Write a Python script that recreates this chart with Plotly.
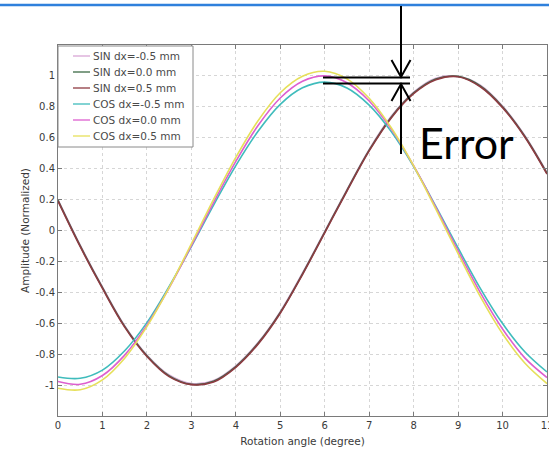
import plotly.graph_objects as go

# ---------------- data ----------------
angle = [0, 0.5, 1, 1.5, 2, 2.5, 3, 3.5, 4, 4.5, 5, 5.5, 6, 6.5, 7, 7.5, 8, 8.5, 9, 9.5, 10, 10.5, 11]

sin_m05 = [0.20, -0.095, -0.365, -0.615, -0.805, -0.935, -0.99, -0.97, -0.875, -0.725, -0.525, -0.275, -0.005, 0.265, 0.525, 0.74, 0.895, 0.985, 0.997, 0.94, 0.805, 0.615, 0.375]
sin_0 = [0.195, -0.10, -0.37, -0.62, -0.81, -0.94, -0.995, -0.975, -0.88, -0.73, -0.53, -0.28, -0.01, 0.26, 0.52, 0.735, 0.89, 0.98, 0.997, 0.935, 0.80, 0.61, 0.37]
sin_p05 = [0.19, -0.105, -0.375, -0.625, -0.815, -0.945, -0.997, -0.98, -0.885, -0.735, -0.535, -0.285, -0.015, 0.255, 0.515, 0.73, 0.885, 0.975, 0.995, 0.93, 0.795, 0.605, 0.365]

cos_m05 = [-0.948, -0.956, -0.903, -0.778, -0.596, -0.362, -0.104, 0.164, 0.420, 0.642, 0.816, 0.923, 0.960, 0.922, 0.811, 0.638, 0.414, 0.156, -0.113, -0.374, -0.602, -0.784, -0.915]
cos_0 = [-0.977, -0.995, -0.938, -0.806, -0.612, -0.371, -0.098, 0.181, 0.447, 0.679, 0.857, 0.965, 1.000, 0.956, 0.838, 0.654, 0.419, 0.149, -0.131, -0.402, -0.637, -0.824, -0.951]
cos_p05 = [-1.02, -1.030, -0.966, -0.826, -0.622, -0.370, -0.086, 0.201, 0.473, 0.710, 0.891, 0.998, 1.030, 0.981, 0.855, 0.663, 0.418, 0.138, -0.150, -0.428, -0.668, -0.857, -0.990]

series_names = ["SIN dx=-0.5 mm", "SIN dx=0.0 mm", "SIN dx=0.5 mm",
                "COS dx=-0.5 mm", "COS dx=0.0 mm", "COS dx=0.5 mm"]
series_colors = ["#d9a6d6", "#3b6a44", "#8e3a42", "#3fbcbc", "#dd5fcf", "#e6e05a"]

x_tick_vals = [0, 1, 2, 3, 4, 5, 6, 7, 8, 9, 10, 11]
x_tick_text = ["0", "1", "2", "3", "4", "5", "6", "7", "8", "9", "10", "11"]
y_tick_vals = [-1, -0.8, -0.6, -0.4, -0.2, 0, 0.2, 0.4, 0.6, 0.8, 1]
y_tick_text = ["-1", "-0.8", "-0.6", "-0.4", "-0.2", "0", "0.2", "0.4", "0.6", "0.8", "1"]

# ---------------- figure ----------------
W, H = 549, 449
L, R, T, B = 58, 2, 45, 33
PW, PH = W - L - R, H - T - B


def px(xp):
    return (xp - L) / PW


def py(yp):
    return (H - B - yp) / PH


fig = go.Figure()
all_series = [sin_m05, sin_0, sin_p05, cos_m05, cos_0, cos_p05]
for name, vals, col in zip(series_names, all_series, series_colors):
    fig.add_trace(go.Scatter(
        x=angle, y=vals, mode="lines", name=name,
        line=dict(color=col, width=1.6, shape="spline", smoothing=1.0),
    ))

font_main = "DejaVu Sans, Arial, sans-serif"

fig.update_layout(
    width=W, height=H, autosize=False,
    margin=dict(l=L, r=R, t=T, b=B, pad=0),
    paper_bgcolor="white", plot_bgcolor="white",
    font=dict(family=font_main, size=10, color="#3a3a3a"),
    showlegend=False,
    xaxis=dict(
        range=[0, 11], tickvals=x_tick_vals, ticktext=x_tick_text,
        showgrid=True, gridcolor="#d6d6d6", griddash="dot", gridwidth=1,
        showline=True, linecolor="#7a7a7a", linewidth=1, mirror="ticks",
        ticks="inside", ticklen=4, tickcolor="#7a7a7a",
        zeroline=False, automargin=False, ticklabeloverflow="allow",
        title=dict(text="Rotation angle (degree)", font=dict(size=10.5), standoff=7),
    ),
    yaxis=dict(
        range=[-1.2, 1.2], tickvals=y_tick_vals, ticktext=y_tick_text,
        showgrid=True, gridcolor="#d6d6d6", griddash="dot", gridwidth=1,
        showline=True, linecolor="#7a7a7a", linewidth=1, mirror="ticks",
        ticks="inside", ticklen=4, tickcolor="#7a7a7a",
        zeroline=False, automargin=False,
        title=dict(text="Amplitude (Normalized)", font=dict(size=10.5), standoff=3),
    ),
)

# top blue border line
shapes = [dict(type="line", xref="paper", yref="paper",
               x0=px(0), x1=px(W), y0=py(5), y1=py(5),
               line=dict(color="#2f80dc", width=2.5))]

# legend box (drawn by hand to match the tight row spacing)
shapes.append(dict(type="rect", xref="paper", yref="paper",
                   x0=px(58), x1=px(193), y0=py(46), y1=py(147),
                   fillcolor="white", line=dict(color="#8a8a8a", width=1), layer="above"))
for i, (name, col) in enumerate(zip(series_names, series_colors)):
    yc = 56 + 16 * i
    shapes.append(dict(type="line", xref="paper", yref="paper",
                       x0=px(73), x1=px(90), y0=py(yc), y1=py(yc),
                       line=dict(color=col, width=1.3), layer="above"))
    fig.add_annotation(x=px(91), y=py(yc), xref="paper", yref="paper",
                       text=name, showarrow=False, xanchor="left", yanchor="middle",
                       font=dict(family=font_main, size=10.5, color="#4a4a4a"))

blk = dict(color="black", width=2)
# error indicator
shapes += [
    dict(type="line", xref="paper", yref="paper", x0=px(401), x1=px(401), y0=py(6), y1=py(77), line=blk),
    dict(type="path", xref="paper", yref="paper",
         path=f"M{px(391.5)},{py(60)} L{px(401)},{py(77)} L{px(410.5)},{py(60)}", line=blk),
    dict(type="line", xref="paper", yref="paper", x0=px(323), x1=px(410), y0=py(77.5), y1=py(77.5), line=blk),
    dict(type="line", xref="paper", yref="paper", x0=px(323), x1=px(410), y0=py(83.5), y1=py(83.5), line=blk),
    dict(type="path", xref="paper", yref="paper",
         path=f"M{px(391.5)},{py(101)} L{px(401)},{py(84)} L{px(410.5)},{py(101)}", line=blk),
    dict(type="line", xref="paper", yref="paper", x0=px(401), x1=px(401), y0=py(84), y1=py(154), line=blk),
]
fig.update_layout(shapes=shapes)

fig.add_annotation(
    x=px(417), y=py(142), xref="paper", yref="paper",
    text="Error", showarrow=False, xanchor="left", yanchor="middle",
    font=dict(family="Lato, Open Sans, sans-serif", size=43, color="black"),
)

fig.write_html("out.html", config={"displayModeBar": False},
               post_script="document.body.style.margin='0';document.body.style.overflow='hidden';")
